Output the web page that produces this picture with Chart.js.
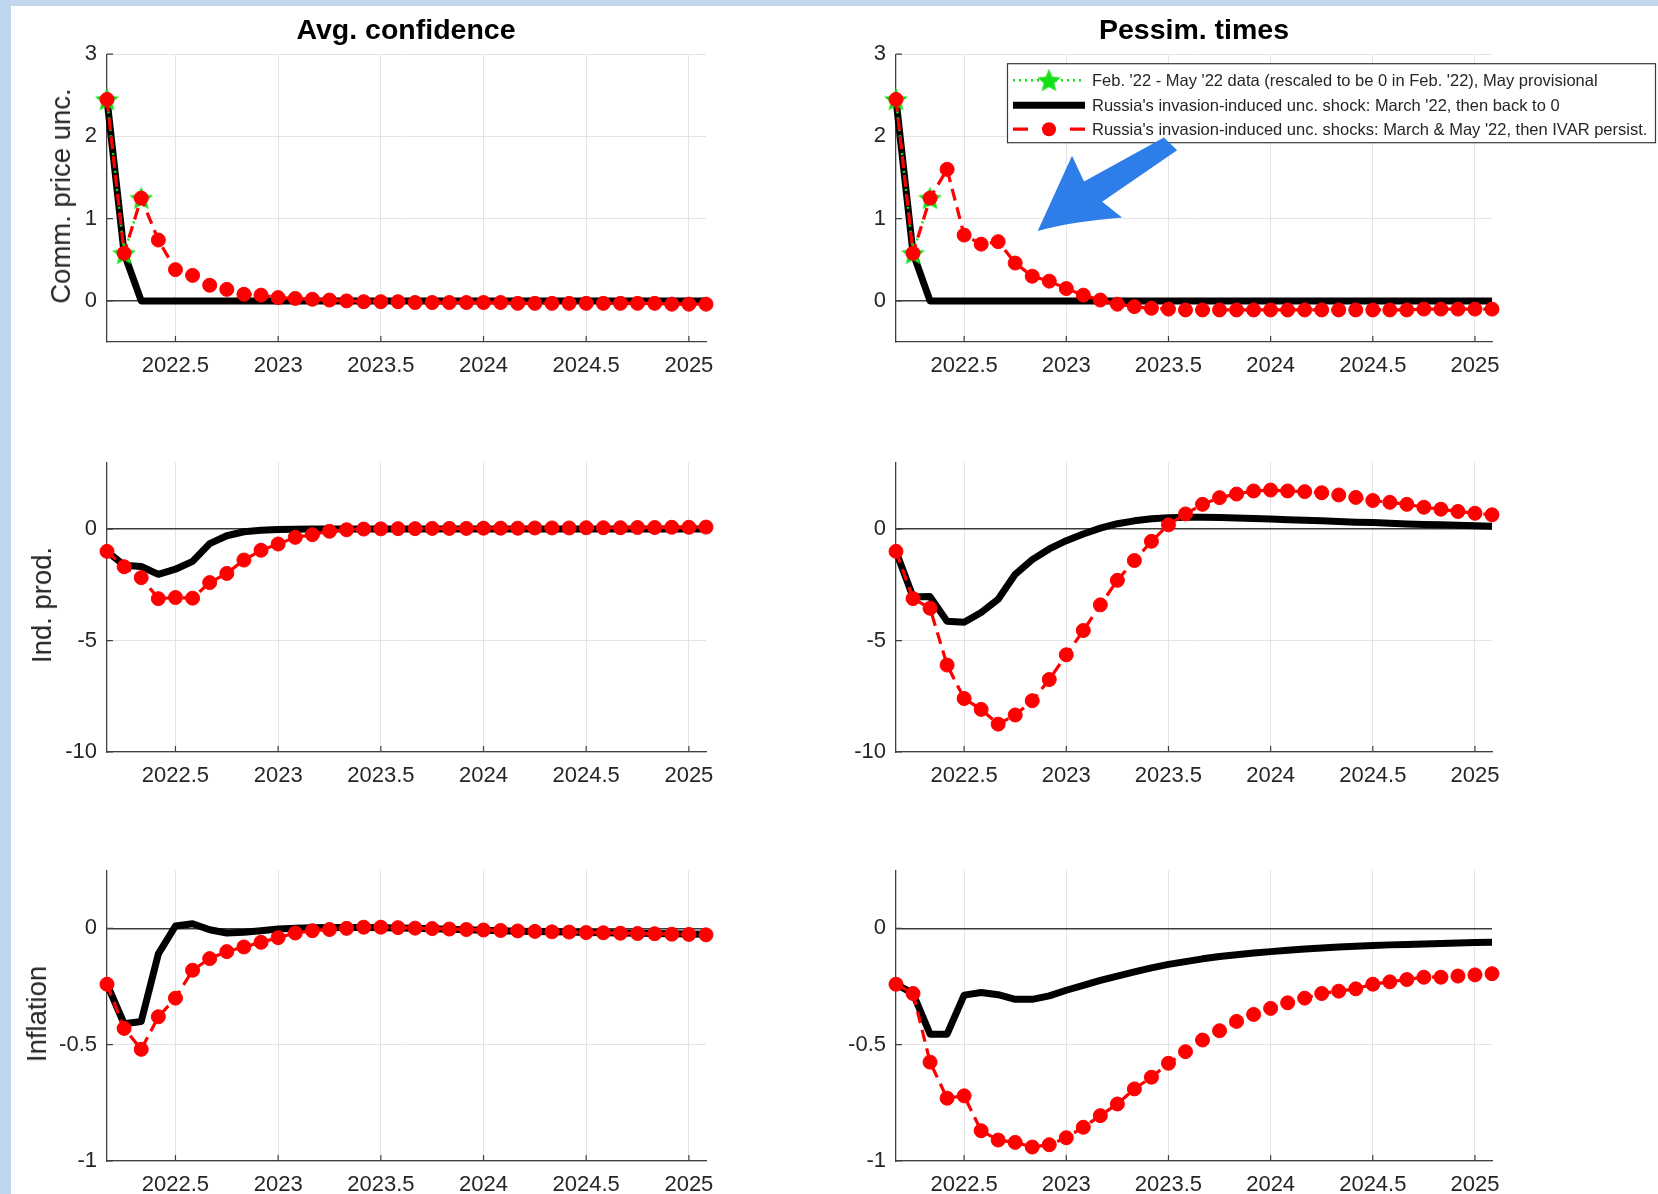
<!DOCTYPE html>
<html>
<head>
<meta charset="utf-8">
<title>Commodity price uncertainty shock</title>
<script src="https://cdn.jsdelivr.net/npm/chart.js@4.4.1/dist/chart.umd.min.js"></script>
<style>
  html, body { margin: 0; padding: 0; }
  body {
    width: 1658px; height: 1194px; position: relative; overflow: hidden;
    background: #fff; font-family: "Liberation Sans", Arial, sans-serif;
  }
  .strip-left { position: absolute; left: 0; top: 0; width: 11px; height: 1194px; background: #bfd5ee; }
  .strip-top { position: absolute; left: 0; top: 0; width: 1658px; height: 6px; background: #c3d7ee; }
  canvas { position: absolute; }
  .title {
    position: absolute; font-weight: bold; font-size: 28.5px; color: #000;
    transform: translate(-50%, -50%); white-space: nowrap;
  }
  .ylab {
    position: absolute; font-size: 27.5px; color: #262626;
    transform: translate(-50%, -50%) rotate(-90deg); white-space: nowrap;
  }
</style>
</head>
<body>
<div class="strip-top"></div>
<div class="strip-left"></div>
<div id="figure"></div>

<div class="title" style="left:406px; top:29px;">Avg. confidence</div>
<div class="title" style="left:1194px; top:29px;">Pessim. times</div>
<div class="ylab" style="left:61px; top:196px;">Comm. price unc.</div>
<div class="ylab" style="left:42px; top:605px;">Ind. prod.</div>
<div class="ylab" style="left:37px; top:1014px;">Inflation</div>

<script>
// Monthly horizon, March 2022 to February 2025
const months = [
    '2022-03', '2022-04', '2022-05', '2022-06', '2022-07', '2022-08', '2022-09', '2022-10', '2022-11', '2022-12',
    '2023-01', '2023-02', '2023-03', '2023-04', '2023-05', '2023-06', '2023-07', '2023-08', '2023-09', '2023-10', '2023-11', '2023-12',
    '2024-01', '2024-02', '2024-03', '2024-04', '2024-05', '2024-06', '2024-07', '2024-08', '2024-09', '2024-10', '2024-11', '2024-12',
    '2025-01', '2025-02'
];

// Observed commodity price uncertainty (rescaled, Feb '22 = 0)
const dataMonths = ['2022-03', '2022-04', '2022-05'];
const commData = [2.45, 0.58, 1.25];

// Commodity price uncertainty paths
const commOneShot = [
    2.45, 0.58, 0, 0, 0, 0, 0, 0, 0, 0,
    0, 0, 0, 0, 0, 0, 0, 0, 0, 0,
    0, 0, 0, 0, 0, 0, 0, 0, 0, 0,
    0, 0, 0, 0, 0, 0
];
const commPersistAvg = [
    2.45, 0.58, 1.25, 0.74, 0.38, 0.31, 0.19, 0.14, 0.08, 0.07,
    0.04, 0.03, 0.02, 0.01, 0.00, -0.01, -0.01, -0.01, -0.02, -0.02,
    -0.02, -0.02, -0.02, -0.02, -0.03, -0.03, -0.03, -0.03, -0.03, -0.03,
    -0.03, -0.03, -0.03, -0.04, -0.04, -0.04
];
const commPersistPess = [
    2.45, 0.58, 1.25, 1.60, 0.80, 0.69, 0.72, 0.46, 0.30, 0.24,
    0.15, 0.07, 0.01, -0.04, -0.07, -0.09, -0.10, -0.11, -0.11, -0.11,
    -0.11, -0.11, -0.11, -0.11, -0.11, -0.11, -0.11, -0.11, -0.11, -0.11,
    -0.11, -0.10, -0.10, -0.10, -0.10, -0.10
];

// Industrial production responses
const ipOneShotAvg = [
    -1.00, -1.62, -1.68, -2.03, -1.80, -1.45, -0.65, -0.30, -0.12, -0.05,
    -0.02, -0.01, 0, 0, 0, 0, 0, 0, 0, 0,
    0, 0, 0, 0, 0, 0, 0, 0, 0, 0,
    0, 0, 0, 0, 0, 0
];
const ipPersistAvg = [
    -1.00, -1.69, -2.18, -3.12, -3.07, -3.10, -2.40, -1.99, -1.39, -0.95,
    -0.67, -0.37, -0.25, -0.10, -0.03, 0.00, 0.01, 0.02, 0.02, 0.03,
    0.03, 0.03, 0.04, 0.04, 0.04, 0.05, 0.05, 0.05, 0.06, 0.06,
    0.06, 0.07, 0.07, 0.08, 0.08, 0.09
];
const ipOneShotPess = [
    -1.00, -3.05, -3.03, -4.14, -4.18, -3.74, -3.15, -2.03, -1.37, -0.89,
    -0.52, -0.22, 0.04, 0.24, 0.37, 0.46, 0.51, 0.53, 0.53, 0.52,
    0.50, 0.48, 0.45, 0.42, 0.40, 0.37, 0.34, 0.31, 0.29, 0.26,
    0.23, 0.21, 0.19, 0.17, 0.15, 0.13
];
const ipPersistPess = [
    -1.00, -3.12, -3.55, -6.10, -7.60, -8.09, -8.75, -8.34, -7.70, -6.75,
    -5.64, -4.55, -3.40, -2.30, -1.41, -0.55, 0.19, 0.68, 1.11, 1.41,
    1.57, 1.71, 1.75, 1.71, 1.68, 1.63, 1.53, 1.42, 1.28, 1.20,
    1.11, 0.98, 0.89, 0.79, 0.71, 0.64
];

// Inflation responses
const infOneShotAvg = [
    -0.24, -0.41, -0.40, -0.11, 0.01, 0.02, -0.006, -0.02, -0.017, -0.01,
    -0.003, 0.000, 0.003, 0.004, 0.004, 0.004, 0.003, 0.002, 0.000, -0.002,
    -0.004, -0.006, -0.008, -0.010, -0.012, -0.013, -0.015, -0.016, -0.018, -0.019,
    -0.020, -0.021, -0.022, -0.023, -0.024, -0.025
];
const infPersistAvg = [
    -0.24, -0.43, -0.52, -0.38, -0.30, -0.18, -0.13, -0.10, -0.08, -0.06,
    -0.04, -0.02, -0.01, -0.005, 0.000, 0.005, 0.005, 0.003, 0.001, -0.001,
    -0.003, -0.005, -0.007, -0.009, -0.011, -0.013, -0.015, -0.016, -0.018, -0.019,
    -0.021, -0.022, -0.023, -0.025, -0.026, -0.028
];
const infOneShotPess = [
    -0.240, -0.280, -0.455, -0.455, -0.287, -0.276, -0.285, -0.305, -0.305, -0.290,
    -0.266, -0.245, -0.224, -0.205, -0.187, -0.170, -0.155, -0.143, -0.131, -0.121,
    -0.113, -0.106, -0.100, -0.094, -0.089, -0.084, -0.080, -0.077, -0.074, -0.071,
    -0.069, -0.067, -0.065, -0.063, -0.061, -0.060
];
const infPersistPess = [
    -0.24, -0.28, -0.575, -0.73, -0.72, -0.87, -0.91, -0.92, -0.94, -0.93,
    -0.90, -0.855, -0.805, -0.755, -0.69, -0.64, -0.58, -0.53, -0.48, -0.44,
    -0.40, -0.37, -0.344, -0.32, -0.30, -0.28, -0.27, -0.26, -0.24, -0.23,
    -0.22, -0.21, -0.21, -0.205, -0.20, -0.195
];

// Axes
const xTickValues = [2022.5, 2023, 2023.5, 2024, 2024.5, 2025];
const xTickLabels = ['2022.5', '2023', '2023.5', '2024', '2024.5', '2025'];
const commRange = [-0.5, 3];
const commTicks = [0, 1, 2, 3];
const commTickLabels = ['0', '1', '2', '3'];
const ipRange = [-10, 3];
const ipTicks = [-10, -5, 0];
const ipTickLabels = ['-10', '-5', '0'];
const infRange = [-1, 0.25];
const infTicks = [-1, -0.5, 0];
const infTickLabels = ['-1', '-0.5', '0'];

const legendLabels = {
    data: "Feb. '22 - May '22 data (rescaled to be 0 in Feb. '22), May provisional",
    oneShot: "Russia's invasion-induced unc. shock: March '22, then back to 0",
    persist: "Russia's invasion-induced unc. shocks: March & May '22, then IVAR persist."
};

// Callout arrow in the pessimistic panel, data units
const arrowTail = { x: 2023.51, y: 1.91 };
const arrowTip = { x: 2022.86, y: 0.85 };

// ---- layout ----
const COLS = [
    { left: 107, right: 706, edge: 740 },
    { left: 896, right: 1492, edge: 1658 }
];
const ROWS = [
    { top: 51, bottom: 342 },
    { top: 459, bottom: 752 },
    { top: 867, bottom: 1161 }
];
const Y_AXIS_W = 67, X_AXIS_H = 40, PAD_TOP = 20;

const FONT = '"Liberation Sans", Arial, sans-serif';
const TEXT = '#262626';
const AXIS = '#404040';
const GRID = '#e4e4e4';
const RED = '#ff0000';
const GREEN = '#14e014';

function toYear(m) {
    const [y, mo] = m.split('-').map(Number);
    return y + (mo - 1) / 12;
}

function series(values, keys) {
    return values.map((v, i) => ({ x: toYear(keys[i]), y: v }));
}

function starImage(r, color) {
    const c = document.createElement('canvas');
    const s = Math.ceil(r * 2 + 2);
    c.width = c.height = s;
    const g = c.getContext('2d');
    g.translate(s / 2, s / 2 + 1);
    g.beginPath();
    for (let k = 0; k < 10; k++) {
        const rad = k % 2 ? r * 0.45 : r;
        const a = -Math.PI / 2 + k * Math.PI / 5;
        g.lineTo(rad * Math.cos(a), rad * Math.sin(a));
    }
    g.closePath();
    g.fillStyle = color;
    g.fill();
    return c;
}
const star = starImage(12.5, GREEN);

// MATLAB-style inward tick marks
const inwardTicks = {
    id: 'inwardTicks',
    afterDraw(chart) {
        const { ctx, chartArea: a, scales } = chart;
        ctx.save();
        ctx.strokeStyle = AXIS;
        ctx.lineWidth = 1.2;
        ctx.beginPath();
        scales.x.ticks.forEach(t => {
            const x = scales.x.getPixelForValue(t.value);
            ctx.moveTo(x, a.bottom);
            ctx.lineTo(x, a.bottom - 6);
        });
        scales.y.ticks.forEach(t => {
            const y = scales.y.getPixelForValue(t.value);
            ctx.moveTo(a.left, y);
            ctx.lineTo(a.left + 6, y);
        });
        ctx.stroke();
        ctx.restore();
    }
};

function drawArrow(ctx, tip, tail) {
    const dx = tail.x - tip.x, dy = tail.y - tip.y;
    const len = Math.hypot(dx, dy);
    const k = len / 159;
    const ux = dx / len, uy = dy / len, vx = -uy, vy = ux;
    const P = (a, c) => [tip.x + (ux * a + vx * c) * k, tip.y + (uy * a + vy * c) * k];
    const pts = {
        tip: P(0, 0),
        headA: P(70, -44),
        neckA: P(66, -16),
        tailA: P(157, -9),
        tailB: P(161, 9),
        neckB: P(70, 11),
        headB: P(78, 35),
        bend: P(32, 10)
    };
    ctx.save();
    ctx.fillStyle = '#2d7ee8';
    ctx.beginPath();
    ctx.moveTo(...pts.tip);
    ctx.lineTo(...pts.headA);
    ctx.lineTo(...pts.neckA);
    ctx.lineTo(...pts.tailA);
    ctx.lineTo(...pts.tailB);
    ctx.lineTo(...pts.neckB);
    ctx.lineTo(...pts.headB);
    ctx.quadraticCurveTo(...pts.bend, ...pts.tip);
    ctx.closePath();
    ctx.fill();
    ctx.restore();
}

// Legend box and callout arrow, drawn over the pessimistic commodity panel
const scenarioLegend = {
    id: 'scenarioLegend',
    afterDraw(chart) {
        const { ctx, chartArea: a } = chart;
        const left = a.left + 111, top = a.top + 9, w = 648, h = 79;
        ctx.save();
        ctx.fillStyle = '#fff';
        ctx.fillRect(left, top, w, h);
        ctx.strokeStyle = '#3a3a3a';
        ctx.lineWidth = 1.2;
        ctx.strokeRect(left + 0.5, top + 0.5, w, h);

        const sx0 = left + 6, sx1 = left + 78, sxm = (sx0 + sx1) / 2;
        const rows = [top + 17, top + 42, top + 66];

        // observed data: dotted green with star
        ctx.strokeStyle = GREEN;
        ctx.lineWidth = 2.5;
        ctx.setLineDash([2, 4]);
        ctx.beginPath();
        ctx.moveTo(sx0, rows[0]);
        ctx.lineTo(sx1, rows[0]);
        ctx.stroke();
        ctx.setLineDash([]);
        ctx.drawImage(star, sxm - star.width / 2, rows[0] - star.height / 2);

        // one-off shock: thick black
        ctx.strokeStyle = '#000';
        ctx.lineWidth = 7;
        ctx.beginPath();
        ctx.moveTo(sx0, rows[1]);
        ctx.lineTo(sx1, rows[1]);
        ctx.stroke();

        // persistent shocks: red dash, dot, dash
        ctx.strokeStyle = RED;
        ctx.lineWidth = 3.2;
        ctx.beginPath();
        ctx.moveTo(sx0, rows[2]);
        ctx.lineTo(sx0 + 15, rows[2]);
        ctx.moveTo(sx1 - 15, rows[2]);
        ctx.lineTo(sx1, rows[2]);
        ctx.stroke();
        ctx.fillStyle = RED;
        ctx.beginPath();
        ctx.arc(sxm, rows[2], 7, 0, Math.PI * 2);
        ctx.fill();

        ctx.fillStyle = TEXT;
        ctx.font = '16.5px ' + FONT;
        ctx.textBaseline = 'middle';
        ctx.fillText(legendLabels.data, left + 85, rows[0] + 1);
        ctx.fillText(legendLabels.oneShot, left + 85, rows[1] + 1);
        ctx.fillText(legendLabels.persist, left + 85, rows[2] + 1);
        ctx.restore();

        const x = chart.scales.x, y = chart.scales.y;
        drawArrow(ctx,
            { x: x.getPixelForValue(arrowTip.x), y: y.getPixelForValue(arrowTip.y) },
            { x: x.getPixelForValue(arrowTail.x), y: y.getPixelForValue(arrowTail.y) });
    }
};

function makePanel(p) {
    const col = COLS[p.col], row = ROWS[p.row];
    const canvas = document.createElement('canvas');
    const cLeft = col.left - Y_AXIS_W, cTop = row.top - PAD_TOP;
    canvas.width = col.edge - cLeft;
    canvas.height = PAD_TOP + (row.bottom - row.top) + X_AXIS_H;
    canvas.style.left = cLeft + 'px';
    canvas.style.top = cTop + 'px';
    document.getElementById('figure').appendChild(canvas);

    const datasets = [{
        label: legendLabels.persist,
        data: series(p.red, months),
        borderColor: RED,
        backgroundColor: RED,
        borderWidth: 3.2,
        borderDash: [12, 7],
        pointRadius: 7,
        pointBorderWidth: 1,
        pointBorderColor: RED,
        pointBackgroundColor: RED,
        order: 0
    }, {
        label: legendLabels.oneShot,
        data: series(p.black, months),
        borderColor: '#000',
        borderWidth: 7,
        pointRadius: 0,
        borderJoinStyle: 'round',
        order: 2
    }];
    if (p.green) {
        datasets.push({
            label: legendLabels.data,
            data: series(p.green, dataMonths),
            borderColor: GREEN,
            borderWidth: 2.5,
            borderDash: [2, 4],
            pointStyle: star,
            pointRadius: 12,
            order: 1
        });
    }
    datasets.forEach(d => { d.clip = false; d.tension = 0; d.fill = false; });

    const tickFont = { family: FONT, size: 22 };

    return new Chart(canvas.getContext('2d'), {
        type: 'line',
        data: { datasets },
        options: {
            responsive: false,
            animation: false,
            events: [],
            layout: { padding: { left: 0, top: PAD_TOP, right: col.edge - col.right, bottom: 0 } },
            plugins: { legend: { display: false }, tooltip: { enabled: false } },
            scales: {
                x: {
                    type: 'linear',
                    min: toYear(months[0]),
                    max: toYear(months[months.length - 1]),
                    afterFit: s => { s.height = X_AXIS_H; },
                    afterBuildTicks: s => { s.ticks = xTickValues.map(v => ({ value: v })); },
                    ticks: {
                        autoSkip: false, maxRotation: 0, padding: 11,
                        color: TEXT, font: tickFont,
                        callback: v => xTickLabels[xTickValues.indexOf(v)]
                    },
                    grid: { color: GRID, lineWidth: 1, drawTicks: false },
                    border: { display: true, color: AXIS, width: 1.3 }
                },
                y: {
                    min: p.range[0],
                    max: p.range[1],
                    afterFit: s => { s.width = Y_AXIS_W; },
                    afterBuildTicks: s => { s.ticks = p.ticks.map(v => ({ value: v })); },
                    ticks: {
                        autoSkip: false, padding: 10,
                        color: TEXT, font: tickFont,
                        callback: v => p.labels[p.ticks.indexOf(v)]
                    },
                    grid: {
                        drawTicks: false,
                        color: c => (c.tick && c.tick.value === 0 ? '#3a3a3a' : GRID),
                        lineWidth: c => (c.tick && c.tick.value === 0 ? 1.5 : 1)
                    },
                    border: { display: true, color: AXIS, width: 1.3 }
                }
            }
        },
        plugins: p.legend ? [inwardTicks, scenarioLegend] : [inwardTicks]
    });
}

const panels = [
    { col: 0, row: 0, range: commRange, ticks: commTicks, labels: commTickLabels, black: commOneShot, red: commPersistAvg, green: commData },
    { col: 1, row: 0, range: commRange, ticks: commTicks, labels: commTickLabels, black: commOneShot, red: commPersistPess, green: commData, legend: true },
    { col: 0, row: 1, range: ipRange, ticks: ipTicks, labels: ipTickLabels, black: ipOneShotAvg, red: ipPersistAvg },
    { col: 1, row: 1, range: ipRange, ticks: ipTicks, labels: ipTickLabels, black: ipOneShotPess, red: ipPersistPess },
    { col: 0, row: 2, range: infRange, ticks: infTicks, labels: infTickLabels, black: infOneShotAvg, red: infPersistAvg },
    { col: 1, row: 2, range: infRange, ticks: infTicks, labels: infTickLabels, black: infOneShotPess, red: infPersistPess }
];

panels.forEach(makePanel);
</script>
</body>
</html>
